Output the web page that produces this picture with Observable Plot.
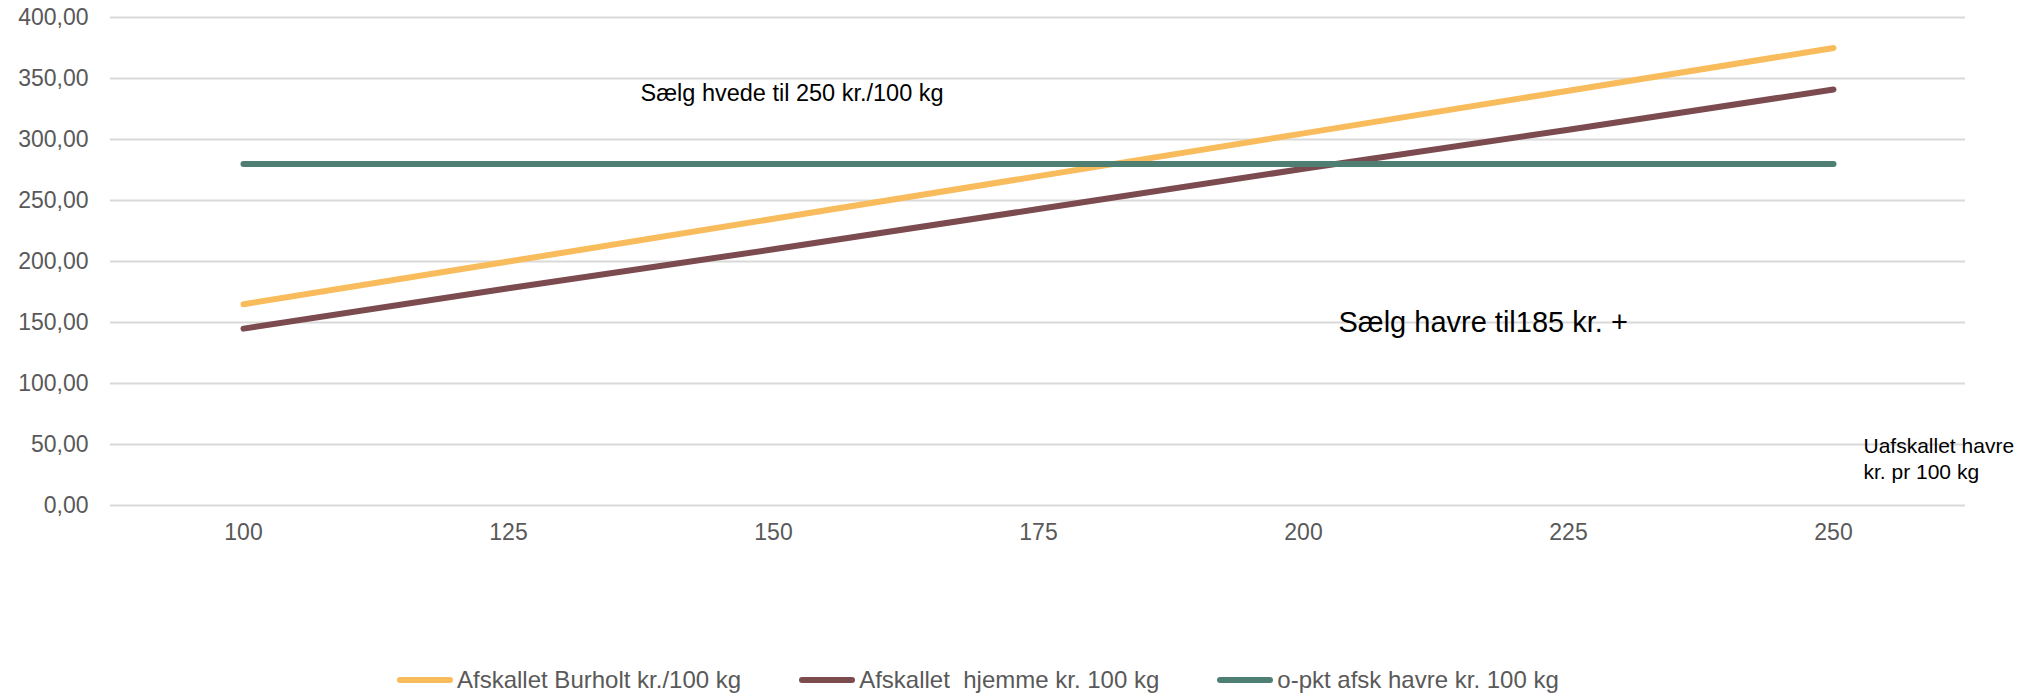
<!DOCTYPE html>
<html>
<head>
<meta charset="utf-8">
<script src="https://cdn.jsdelivr.net/npm/d3@7"></script>
<script src="https://cdn.jsdelivr.net/npm/@observablehq/plot@0.6"></script>
<style>
  html, body { margin: 0; padding: 0; background: #fff; overflow: hidden; }
  body { width: 2026px; height: 696px; font-family: "Liberation Sans", Arial, sans-serif; }
  #legend { display: flex; align-items: center; height: 32px; padding-left: 397px; gap: 58px; color: #595959; font-size: 24px; }
  .item { display: flex; align-items: center; white-space: pre; }
  .sw { width: 56px; height: 6px; border-radius: 3px; margin-right: 4px; }
</style>
</head>
<body>
<div id="chart"></div>
<div id="legend"></div>
<script>
const categories = [100, 125, 150, 175, 200, 225, 250];
const burholt = [165, 200, 235, 270, 305, 340, 375];
const hjemme = [145, 178, 210, 243, 276, 308, 341];
const opkt = [280, 280, 280, 280, 280, 280, 280];
const seriesNames = ["Afskallet Burholt kr./100 kg", "Afskallet  hjemme kr. 100 kg", "o-pkt afsk havre kr. 100 kg"];
const seriesColors = ["#F8BC5C", "#7B4B4F", "#4F7F73"];
const yTicks = [0, 50, 100, 150, 200, 250, 300, 350, 400];
const annHvede = "Sælg hvede til 250 kr./100 kg";
const annHavre = "Sælg havre til185 kr. +";
const annAxis = "Uafskallet havre\nkr. pr 100 kg";

const seriesValues = [burholt, hjemme, opkt];
const rows = seriesValues.flatMap((vals, s) =>
  categories.map((c, i) => ({ series: seriesNames[s], x: c, y: vals[i] })));

const fmt = d => d.toFixed(2).replace(".", ",");

const plot = Plot.plot({
  width: 2026,
  height: 664,
  marginLeft: 110,
  marginRight: 61,
  marginTop: 17,
  marginBottom: 159,
  style: { fontFamily: "'Liberation Sans', Arial, sans-serif", background: "#fff", overflow: "visible" },
  x: { type: "point", domain: categories, padding: 0.5, label: null },
  y: { domain: [0, 400], label: null },
  color: { domain: seriesNames, range: seriesColors },
  marks: [
    Plot.gridY(yTicks, { stroke: "#D9D9D9", strokeOpacity: 1, strokeWidth: 2 }),
    Plot.axisY(yTicks, { tickSize: 0, tickPadding: 22, tickFormat: fmt, fontSize: 23, fill: "#595959", label: null }),
    Plot.axisX(categories, { tickSize: 0, tickPadding: 18, fontSize: 23, fill: "#595959", label: null }),
    Plot.line(rows, { x: "x", y: "y", z: "series", stroke: "series", strokeWidth: 6, strokeLinecap: "round" }),
    Plot.text([annHvede], { text: d => d, frameAnchor: "top-left", dx: 530, dy: 76, textAnchor: "start", lineAnchor: "middle", fontSize: 23.5, fill: "#000" }),
    Plot.text([annHavre], { text: d => d, frameAnchor: "top-left", dx: 1228, dy: 305, textAnchor: "start", lineAnchor: "middle", fontSize: 29, fill: "#000" }),
    Plot.text([annAxis], { text: d => d, frameAnchor: "top-left", dx: 1753, dy: 418, textAnchor: "start", lineAnchor: "top", fontSize: 21, lineHeight: 1.2, fill: "#000" })
  ]
});
document.getElementById("chart").appendChild(plot);

const legend = document.getElementById("legend");
seriesNames.forEach((name, i) => {
  const item = document.createElement("div");
  item.className = "item";
  const sw = document.createElement("span");
  sw.className = "sw";
  sw.style.background = seriesColors[i];
  const t = document.createElement("span");
  t.textContent = name;
  item.appendChild(sw);
  item.appendChild(t);
  legend.appendChild(item);
});
</script>
</body>
</html>
